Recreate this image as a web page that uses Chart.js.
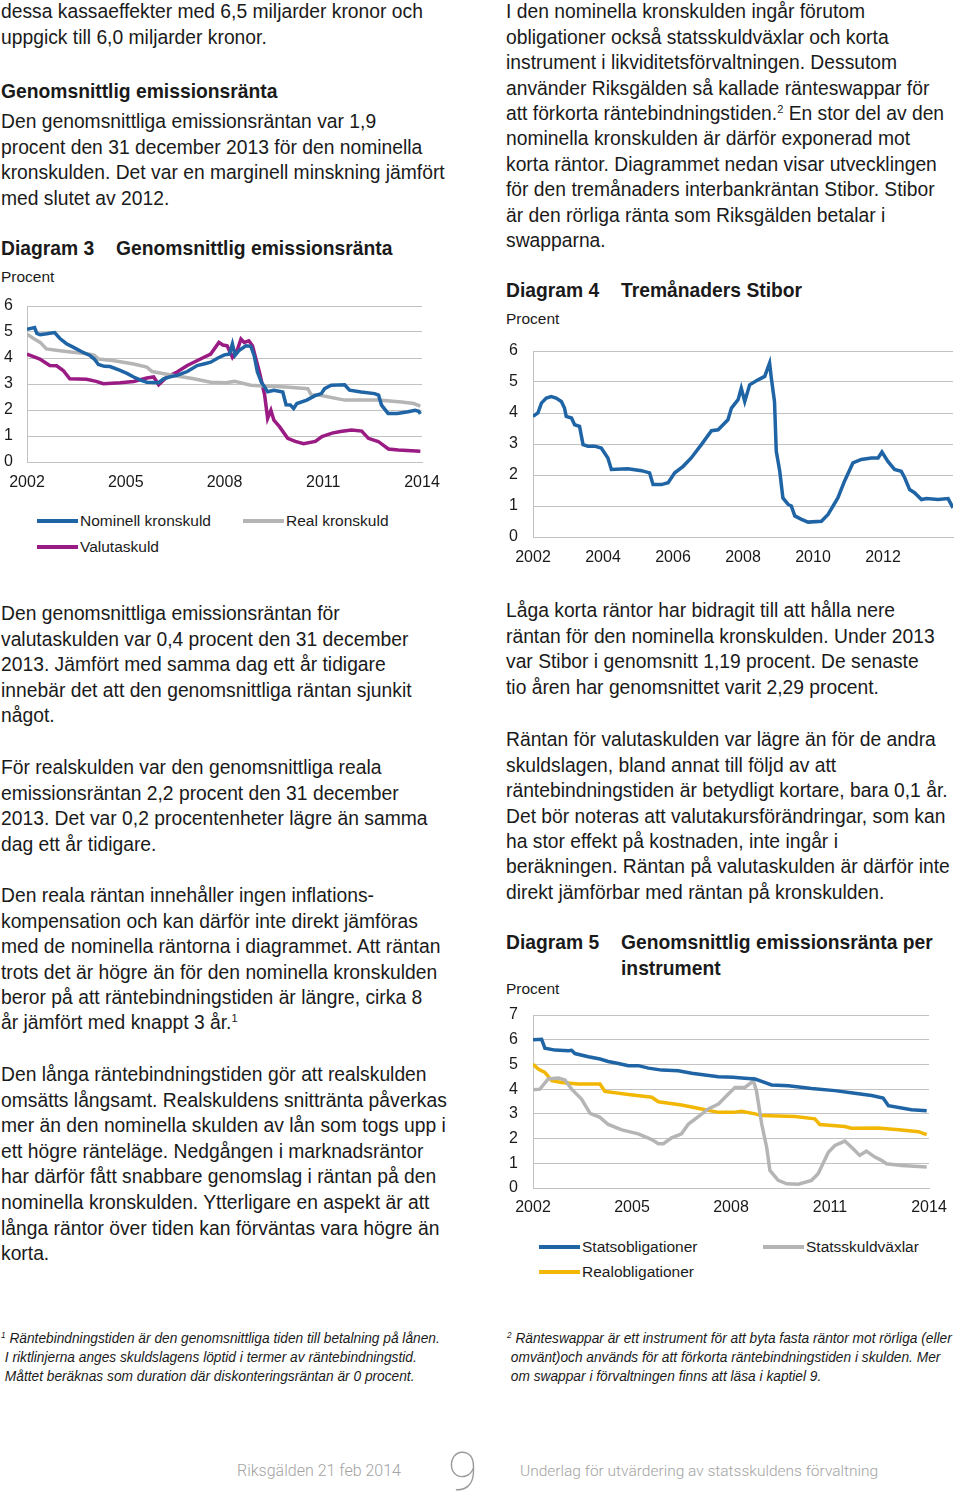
<!DOCTYPE html>
<html lang="sv">
<head>
<meta charset="UTF-8">
<title>Underlag för utvärdering av statsskuldens förvaltning</title>
<script src="https://cdn.jsdelivr.net/npm/chart.js@4.4.0/dist/chart.umd.min.js"></script>
<style>
  body { margin: 0; width: 960px; height: 1492px; position: relative; background: #fff; overflow: hidden;
         font-family: "Liberation Sans", Arial, sans-serif; color: #1a1a1a; }
  .p { position: absolute; white-space: nowrap; font-size: 19.3px; line-height: 25.4px; }
  .b { font-weight: bold; }
  .small { position: absolute; white-space: nowrap; font-size: 15.5px; line-height: 20px; }
  sup { font-size: 11px; vertical-align: 7px; line-height: 0; }
  canvas { position: absolute; }
  .fn { position: absolute; white-space: nowrap; font-style: italic; font-size: 15px; line-height: 19px;
        transform: scaleX(0.915); transform-origin: 0 0; }
  .fn sup { font-size: 9px; vertical-align: 5px; }
  .foot { position: absolute; white-space: nowrap; font-family: Roboto, "Liberation Sans", sans-serif;
          font-weight: 300; color: #a3a3a3; font-size: 16px; line-height: 20px; }
  .lg { position: absolute; white-space: nowrap; font-size: 15.5px; line-height: 20px; }
  .sw { position: absolute; height: 4px; width: 41px; }
</style>
</head>
<body>

<!-- vänster spalt -->
<div class="p" style="left:1px;top:-0.7px">dessa kassaeffekter med 6,5 miljarder kronor och<br>uppgick till 6,0 miljarder kronor.</div>
<div class="p b" style="left:1px;top:79.3px">Genomsnittlig emissionsränta</div>
<div class="p" style="left:1px;top:109.3px">Den genomsnittliga emissionsräntan var 1,9<br>procent den 31 december 2013 för den nominella<br>kronskulden. Det var en marginell minskning jämfört<br>med slutet av 2012.</div>
<div class="p b" style="left:1px;top:236.3px">Diagram 3</div>
<div class="p b" style="left:116px;top:236.3px">Genomsnittlig emissionsränta</div>
<div class="small" style="left:1px;top:267px">Procent</div>
<canvas id="d3" width="450" height="200" style="left:0;top:296px"></canvas>

<div class="p" style="left:1px;top:601.3px">Den genomsnittliga emissionsräntan för<br>valutaskulden var 0,4 procent den 31 december<br>2013. Jämfört med samma dag ett år tidigare<br>innebär det att den genomsnittliga räntan sjunkit<br>något.</div>
<div class="p" style="left:1px;top:755.3px">För realskulden var den genomsnittliga reala<br>emissionsräntan 2,2 procent den 31 december<br>2013. Det var 0,2 procentenheter lägre än samma<br>dag ett år tidigare.</div>
<div class="p" style="left:1px;top:883.3px">Den reala räntan innehåller ingen inflations-<br>kompensation och kan därför inte direkt jämföras<br>med de nominella räntorna i diagrammet. Att räntan<br>trots det är högre än för den nominella kronskulden<br>beror på att räntebindningstiden är längre, cirka 8<br>år jämfört med knappt 3 år.<sup>1</sup></div>
<div class="p" style="left:1px;top:1062.3px;line-height:25.55px">Den långa räntebindningstiden gör att realskulden<br>omsätts långsamt. Realskuldens snittränta påverkas<br>mer än den nominella skulden av lån som togs upp i<br>ett högre ränteläge. Nedgången i marknadsräntor<br>har därför fått snabbare genomslag i räntan på den<br>nominella kronskulden. Ytterligare en aspekt är att<br>långa räntor över tiden kan förväntas vara högre än<br>korta.</div>

<!-- höger spalt -->
<div class="p" style="left:506px;top:-0.7px">I den nominella kronskulden ingår förutom<br>obligationer också statsskuldväxlar och korta<br>instrument i likviditetsförvaltningen. Dessutom<br>använder Riksgälden så kallade ränteswappar för<br>att förkorta räntebindningstiden.<sup>2</sup> En stor del av den<br>nominella kronskulden är därför exponerad mot<br>korta räntor. Diagrammet nedan visar utvecklingen<br>för den tremånaders interbankräntan Stibor. Stibor<br>är den rörliga ränta som Riksgälden betalar i<br>swapparna.</div>
<div class="p b" style="left:506px;top:278.3px">Diagram 4</div>
<div class="p b" style="left:621px;top:278.3px">Tremånaders Stibor</div>
<div class="small" style="left:506px;top:309px">Procent</div>
<canvas id="d4" width="460" height="240" style="left:500px;top:340px"></canvas>

<div class="p" style="left:506px;top:598.3px">Låga korta räntor har bidragit till att hålla nere<br>räntan för den nominella kronskulden. Under 2013<br>var Stibor i genomsnitt 1,19 procent. De senaste<br>tio åren har genomsnittet varit 2,29 procent.</div>
<div class="p" style="left:506px;top:727.3px">Räntan för valutaskulden var lägre än för de andra<br>skuldslagen, bland annat till följd av att<br>räntebindningstiden är betydligt kortare, bara 0,1 år.<br>Det bör noteras att valutakursförändringar, som kan<br>ha stor effekt på kostnaden, inte ingår i<br>beräkningen. Räntan på valutaskulden är därför inte<br>direkt jämförbar med räntan på kronskulden.</div>
<div class="p b" style="left:506px;top:930.3px">Diagram 5</div>
<div class="p b" style="left:621px;top:930.3px">Genomsnittlig emissionsränta per<br>instrument</div>
<div class="small" style="left:506px;top:979px">Procent</div>
<canvas id="d5" width="450" height="230" style="left:500px;top:1000px"></canvas>

<!-- fotnoter -->
<div class="fn" style="left:1px;top:1327.5px"><sup>1</sup> Räntebindningstiden är den genomsnittliga tiden till betalning på lånen.<br>&nbsp;I riktlinjerna anges skuldslagens löptid i termer av räntebindningstid.<br>&nbsp;Måttet beräknas som duration där diskonteringsräntan är 0 procent.</div>
<div class="fn" style="left:507px;top:1327.5px"><sup>2</sup> Ränteswappar är ett instrument för att byta fasta räntor mot rörliga (eller<br>&nbsp;omvänt)och används för att förkorta räntebindningstiden i skulden. Mer<br>&nbsp;om swappar i förvaltningen finns att läsa i kaptiel 9.</div>

<div class="foot" style="left:237px;top:1461px">Riksgälden 21 feb 2014</div>
<div class="foot" style="left:448px;top:1442px;font-size:54px;line-height:60px;font-weight:100;color:#9c9c9c">9</div>
<div class="foot" style="left:520px;top:1461px;font-size:15.5px">Underlag för utvärdering av statsskuldens förvaltning</div>

<div id="legends"></div>

<script>
// Diagram 3 – genomsnittlig emissionsränta, [år, procent]
const nominell = [[2002.0,5.1],[2002.15,5.15],[2002.23,5.17],[2002.3,4.95],[2002.4,4.9],[2002.6,4.93],[2002.84,4.98],[2003.0,4.75],[2003.2,4.55],[2003.4,4.42],[2003.65,4.25],[2003.91,4.1],[2004.05,3.95],[2004.17,3.75],[2004.35,3.68],[2004.52,3.67],[2004.83,3.52],[2005.05,3.4],[2005.24,3.27],[2005.45,3.15],[2005.64,3.07],[2005.85,3.06],[2006.0,3.05],[2006.15,3.2],[2006.35,3.28],[2006.56,3.33],[2006.87,3.48],[2007.17,3.71],[2007.4,3.78],[2007.58,3.84],[2007.8,4.0],[2008.0,4.12],[2008.15,4.15],[2008.24,4.54],[2008.32,4.1],[2008.45,4.3],[2008.65,4.47],[2008.8,4.45],[2008.9,4.1],[2009.0,3.46],[2009.12,3.07],[2009.22,2.88],[2009.31,2.7],[2009.5,2.76],[2009.77,2.69],[2009.87,2.2],[2010.0,2.19],[2010.1,2.06],[2010.2,2.25],[2010.5,2.38],[2010.75,2.55],[2010.94,2.63],[2011.04,2.82],[2011.24,2.95],[2011.65,2.97],[2011.8,2.76],[2012.15,2.69],[2012.56,2.63],[2012.68,2.57],[2012.77,2.19],[2012.97,1.87],[2013.25,1.87],[2013.58,1.93],[2013.79,1.99],[2013.9,1.95],[2013.95,1.85]];
const real = [[2002.0,4.92],[2002.2,4.75],[2002.4,4.6],[2002.59,4.35],[2003.0,4.28],[2003.4,4.22],[2003.91,4.15],[2004.05,4.1],[2004.17,3.96],[2004.6,3.9],[2005.24,3.77],[2005.64,3.65],[2005.8,3.48],[2006.46,3.33],[2007.07,3.2],[2007.58,3.07],[2008.04,3.05],[2008.3,3.1],[2008.8,2.95],[2009.2,2.92],[2009.87,2.88],[2010.53,2.82],[2010.63,2.59],[2010.9,2.57],[2011.65,2.38],[2012.67,2.38],[2013.38,2.31],[2013.75,2.25],[2013.95,2.15]];
const valuta = [[2002.0,4.15],[2002.39,3.96],[2002.69,3.71],[2002.9,3.7],[2003.1,3.52],[2003.3,3.2],[2003.81,3.18],[2004.1,3.1],[2004.32,3.01],[2004.83,3.05],[2005.24,3.1],[2005.64,3.23],[2005.85,3.27],[2006.0,2.97],[2006.25,3.27],[2006.56,3.46],[2006.87,3.71],[2007.27,3.96],[2007.58,4.15],[2007.83,4.6],[2007.95,4.5],[2008.08,4.47],[2008.24,4.03],[2008.4,4.35],[2008.5,4.73],[2008.6,4.6],[2008.74,4.66],[2008.85,4.47],[2009.06,3.46],[2009.22,2.57],[2009.31,1.68],[2009.41,1.99],[2009.5,1.61],[2009.67,1.36],[2009.92,0.91],[2010.15,0.79],[2010.4,0.7],[2010.76,0.79],[2010.96,0.98],[2011.27,1.11],[2011.52,1.17],[2011.86,1.23],[2012.17,1.19],[2012.37,0.91],[2012.67,0.79],[2012.98,0.5],[2013.28,0.46],[2013.68,0.43],[2013.95,0.41]];

// Diagram 4 – tremånaders Stibor
const stibor = [[2002.0,3.89],[2002.14,4.0],[2002.24,4.32],[2002.38,4.48],[2002.52,4.53],[2002.66,4.48],[2002.81,4.37],[2002.9,4.16],[2002.95,3.89],[2003.1,3.84],[2003.19,3.62],[2003.33,3.57],[2003.43,2.98],[2003.57,2.93],[2003.76,2.93],[2003.95,2.87],[2004.14,2.55],[2004.24,2.18],[2004.71,2.2],[2005.1,2.14],[2005.33,2.07],[2005.43,1.69],[2005.67,1.69],[2005.86,1.75],[2006.05,2.07],[2006.29,2.28],[2006.52,2.55],[2006.81,2.98],[2007.1,3.43],[2007.29,3.46],[2007.57,3.78],[2007.67,4.16],[2007.86,4.43],[2007.95,4.8],[2008.05,4.37],[2008.19,4.91],[2008.43,5.07],[2008.62,5.18],[2008.76,5.61],[2008.81,5.12],[2008.9,4.37],[2008.95,2.77],[2009.05,2.12],[2009.14,1.26],[2009.29,1.05],[2009.38,1.0],[2009.48,0.68],[2009.67,0.57],[2009.86,0.48],[2010.24,0.51],[2010.43,0.73],[2010.71,1.26],[2010.9,1.8],[2011.14,2.39],[2011.38,2.5],[2011.67,2.55],[2011.86,2.55],[2011.97,2.74],[2012.14,2.44],[2012.33,2.18],[2012.52,2.12],[2012.62,1.91],[2012.76,1.53],[2012.9,1.43],[2013.1,1.21],[2013.24,1.24],[2013.57,1.21],[2013.86,1.24],[2014.0,0.94]];

// Diagram 5 – per instrument
const statsobl = [[2002.0,6.0],[2002.26,6.02],[2002.36,5.66],[2002.67,5.58],[2003.07,5.55],[2003.17,5.57],[2003.27,5.44],[2003.68,5.31],[2004.03,5.22],[2004.28,5.12],[2004.59,5.04],[2004.89,4.95],[2005.19,4.95],[2005.5,4.85],[2005.9,4.77],[2006.4,4.74],[2006.81,4.64],[2007.21,4.57],[2007.62,4.5],[2008.07,4.48],[2008.32,4.45],[2008.73,4.41],[2008.93,4.31],[2009.23,4.17],[2009.74,4.14],[2010.44,4.03],[2011.15,3.94],[2011.75,3.83],[2012.26,3.74],[2012.61,3.64],[2012.77,3.33],[2013.17,3.24],[2013.47,3.17],[2013.93,3.13]];
const realobl = [[2002.0,5.01],[2002.16,4.81],[2002.36,4.68],[2002.57,4.34],[2002.87,4.27],[2003.37,4.21],[2004.03,4.21],[2004.18,3.91],[2004.89,3.78],[2005.6,3.67],[2005.8,3.49],[2006.5,3.36],[2007.11,3.2],[2007.62,3.06],[2008.07,3.06],[2008.32,3.1],[2008.73,3.0],[2008.93,2.93],[2009.94,2.89],[2010.54,2.8],[2010.69,2.57],[2011.45,2.49],[2011.65,2.42],[2012.46,2.43],[2013.17,2.35],[2013.68,2.28],[2013.93,2.16]];
const vaxlar = [[2002.0,3.97],[2002.21,4.0],[2002.46,4.41],[2002.77,4.45],[2002.97,4.37],[2003.17,4.0],[2003.47,3.6],[2003.73,3.02],[2004.03,2.86],[2004.28,2.57],[2004.69,2.35],[2005.19,2.19],[2005.6,1.96],[2005.8,1.79],[2005.95,1.79],[2006.2,2.03],[2006.5,2.19],[2006.71,2.59],[2007.01,2.89],[2007.31,3.2],[2007.62,3.4],[2007.92,3.8],[2008.12,4.07],[2008.42,4.07],[2008.62,4.27],[2008.67,4.37],[2008.77,3.94],[2008.93,2.59],[2009.08,1.65],[2009.18,0.71],[2009.43,0.31],[2009.69,0.17],[2010.04,0.15],[2010.44,0.31],[2010.64,0.58],[2010.95,1.45],[2011.15,1.72],[2011.45,1.9],[2011.7,1.59],[2011.9,1.32],[2012.1,1.49],[2012.36,1.25],[2012.56,1.12],[2012.71,0.98],[2013.17,0.91],[2013.93,0.85]];

const BLUE = '#1f64a5', PURPLE = '#9a1b83', GREY = '#b5b5b5', YELLOW = '#f2b705';
const GRID = '#c2c2c2';

function ds(label, pts, color) {
  return { label: label, data: pts.map(function (p) { return { x: p[0], y: p[1] }; }),
           borderColor: color, backgroundColor: color, borderWidth: 3.5, pointRadius: 0, tension: 0 };
}

function makeChart(id, datasets, o) {
  new Chart(document.getElementById(id), {
    type: 'line',
    data: { datasets: datasets },
    options: {
      responsive: false, animation: false, devicePixelRatio: 1,
      layout: { padding: { top: o.top, right: o.right, left: 0, bottom: 0 } },
      plugins: { legend: { display: false }, tooltip: { enabled: false } },
      scales: {
        x: {
          type: 'linear', min: 2002, max: 2014,
          afterFit: function (s) { s.height = o.xh; s.paddingLeft = 0; s.paddingRight = 0; },
          grid: { display: false, drawTicks: false },
          border: { display: true, color: GRID, width: 1 },
          afterBuildTicks: function (s) {
            s.ticks = o.years.map(function (v) { return { value: v }; });
          },
          ticks: { autoSkip: false, maxRotation: 0, padding: o.xpad, color: '#1a1a1a',
                   font: { family: 'Liberation Sans', size: 16 },
                   callback: function (v) { return String(v); } }
        },
        y: {
          min: 0, max: o.ymax,
          // tick padding would otherwise push the plot area down
          afterFit: function (s) { s.width = o.yw; s.paddingTop = 0; s.paddingBottom = 0; },
          grid: { color: GRID, lineWidth: 1, drawTicks: false },
          border: { display: true, color: GRID, width: 1 },
          ticks: { stepSize: 1, padding: o.ypad, color: '#1a1a1a',
                   font: { family: 'Liberation Sans', size: 16 } }
        }
      }
    }
  });
}

makeChart('d3', [ds('Nominell kronskuld', nominell, BLUE), ds('Real kronskuld', real, GREY), ds('Valutaskuld', valuta, PURPLE)],
  { top: 10, right: 28, yw: 27, xh: 34, xpad: 11, ypad: 14, ymax: 6, years: [2002, 2005, 2008, 2011, 2014] });
makeChart('d4', [ds('Stibor', stibor, BLUE)],
  { top: 11, right: 7, yw: 33, xh: 43, xpad: 11, ypad: 15, ymax: 6, years: [2002, 2004, 2006, 2008, 2010, 2012] });
makeChart('d5', [ds('Statsobligationer', statsobl, BLUE), ds('Statsskuldväxlar', vaxlar, GREY), ds('Realobligationer', realobl, YELLOW)],
  { top: 15, right: 21, yw: 33, xh: 42, xpad: 10, ypad: 15, ymax: 7, years: [2002, 2005, 2008, 2011, 2014] });

// förklaringar (legender), två kolumner
const legendSets = [
  { cols: [37, 243], rows: [521, 547], items: [['Nominell kronskuld', BLUE, 0, 0], ['Real kronskuld', GREY, 1, 0], ['Valutaskuld', PURPLE, 0, 1]] },
  { cols: [539, 763], rows: [1247, 1272], items: [['Statsobligationer', BLUE, 0, 0], ['Statsskuldväxlar', GREY, 1, 0], ['Realobligationer', YELLOW, 0, 1]] }
];
const host = document.getElementById('legends');
legendSets.forEach(function (set) {
  set.items.forEach(function (it) {
    const x = set.cols[it[2]], y = set.rows[it[3]];
    const sw = document.createElement('div');
    sw.className = 'sw';
    sw.style.cssText = 'left:' + x + 'px;top:' + (y - 2) + 'px;background:' + it[1];
    const tx = document.createElement('div');
    tx.className = 'lg';
    tx.style.cssText = 'left:' + (x + 43) + 'px;top:' + (y - 10) + 'px';
    tx.textContent = it[0];
    host.appendChild(sw);
    host.appendChild(tx);
  });
});
</script>
</body>
</html>
